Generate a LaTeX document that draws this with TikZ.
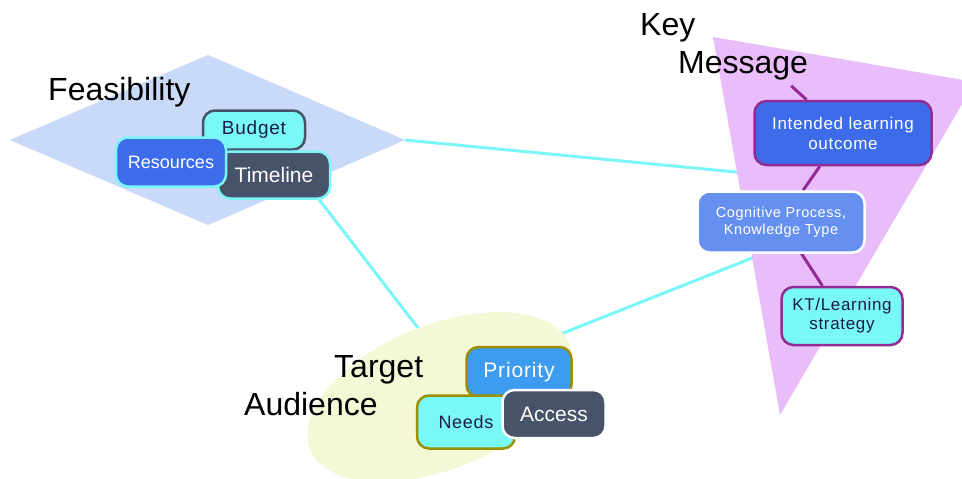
\documentclass[tikz,border=0pt]{standalone}
\usepackage{fontspec}
\setmainfont{Liberation Sans}
\newfontfamily\spacedfont[LetterSpace=4]{Liberation Sans}
\usetikzlibrary{shapes.geometric,backgrounds}

\definecolor{cyanline}{HTML}{7AF5F8}
\definecolor{cyanbox}{HTML}{7AF8F8}
\definecolor{slatebox}{HTML}{465369}
\definecolor{royalbox}{HTML}{3C6CEA}
\definecolor{cornbox}{HTML}{6690F0}
\definecolor{prioritybox}{HTML}{3D9BF0}
\definecolor{kmpurple}{HTML}{912C95}
\definecolor{taolive}{HTML}{9A9000}
\definecolor{navytext}{HTML}{1B1B4B}
\definecolor{feasbg}{HTML}{C9DAF9}
\definecolor{kmbg}{HTML}{E9BCFA}
\definecolor{tabg}{HTML}{F5F8D6}

\begin{document}
\begin{tikzpicture}[x=1pt,y=-1pt,
	link/.style={draw=cyanline, line width=3pt},
	kmlink/.style={draw=kmpurple, line width=3pt},
	box/.style={rounded corners=12pt, line width=2.5pt, inner sep=0pt, align=center},
	title/.style={font=\fontsize{32}{34}\selectfont, inner sep=0pt, anchor=base west}
]{
		\def\W{962}
		\def\H{479}
		\useasboundingbox (0,0) rectangle (\W,\H);
		\clip (0,0) rectangle (\W,\H);

		\node[title] (feas_label) 	at (48,100) {Feasibility};
		\node[title] (km_key) 		at (640,35) {Key};
		\node[title] (km_msg) 		at (678,73) {Message};
		\node[title] (ta_target) 	at (334,377) {Target};
		\node[title] (ta_audience) 	at (244,415) {Audience};

		\node[box, fill=cyanbox, draw=slatebox, text=navytext, minimum width=102pt, minimum height=39pt, font=\spacedfont\fontsize{19}{21}\selectfont] (budget) at (254,130) {\raisebox{-2pt}{Budget}};
		\node[box, fill=slatebox, draw=cyanline, text=white, minimum width=112pt, minimum height=47pt, font=\fontsize{21}{23}\selectfont] (timeline) at (274,175) {Timeline};
		\node[box, fill=royalbox, draw=cyanline, text=white, minimum width=110pt, minimum height=49pt, font=\fontsize{18}{20}\selectfont] (resources) at (171,162) {Resources};

		\node[box, fill=royalbox, draw=kmpurple, text=white, minimum width=177pt, minimum height=64pt, font=\spacedfont\fontsize{17}{20}\selectfont] (ilo) at (843,133) {Intended learning\\outcome};
		\node[box, fill=cornbox, draw=white, text=white, minimum width=167pt, minimum height=61pt, font=\spacedfont\fontsize{14.5}{17}\selectfont] (cog) at (781,222) {Cognitive Process,\\Knowledge Type};
		\node[box, fill=cyanbox, draw=kmpurple, text=navytext, minimum width=121pt, minimum height=58pt, font=\spacedfont\fontsize{17}{19}\selectfont] (kt) at (842,316) {KT/Learning\\strategy};

		\node[box, fill=prioritybox, draw=taolive, text=white, minimum width=105pt, minimum height=50pt, font=\spacedfont\fontsize{21}{23}\selectfont] (priority) at (519,372) {Priority};
		\node[box, fill=cyanbox, draw=taolive, text=navytext, minimum width=98pt, minimum height=53pt, font=\spacedfont\fontsize{18}{20}\selectfont] (needs) at (466,422) {Needs};
		\node[box, fill=slatebox, draw=white, text=white, minimum width=103pt, minimum height=48pt, font=\fontsize{21}{23}\selectfont] (access) at (554,414) {Access};

		\begin{scope}[on background layer]
				\coordinate (feas_e) 	at (405,140);
				\coordinate (km_hub) 	at (818,180);
				\coordinate (km_low) 	at (800,239);
				\coordinate (ta_hub) 	at (455,376);

				\draw[link] (feas_e) -- (km_hub);
				\draw[link] ([xshift=-12pt]timeline.south east) -- (ta_hub);
				\draw[link] (ta_hub) -- (km_low);

				\fill[feasbg] (10,140) -- (208,55) -- (feas_e) -- (208,225) -- cycle;
				\node[ellipse, rotate=22, fill=tabg, inner sep=0pt, minimum width=280pt, minimum height=144pt] (ta) at (440,397) {};
				\fill[kmbg] (713,37) -- (975,82) -- (780,415) -- cycle;

				\draw[kmlink] ([xshift=-17pt,yshift=-6pt]km_msg.south east) -- (ilo);
				\foreach \a/\b in {ilo/cog, cog/kt}
				{
						\draw[kmlink] (\a) -- (\b);
				}
		\end{scope}
	}\end{tikzpicture}
\end{document}
